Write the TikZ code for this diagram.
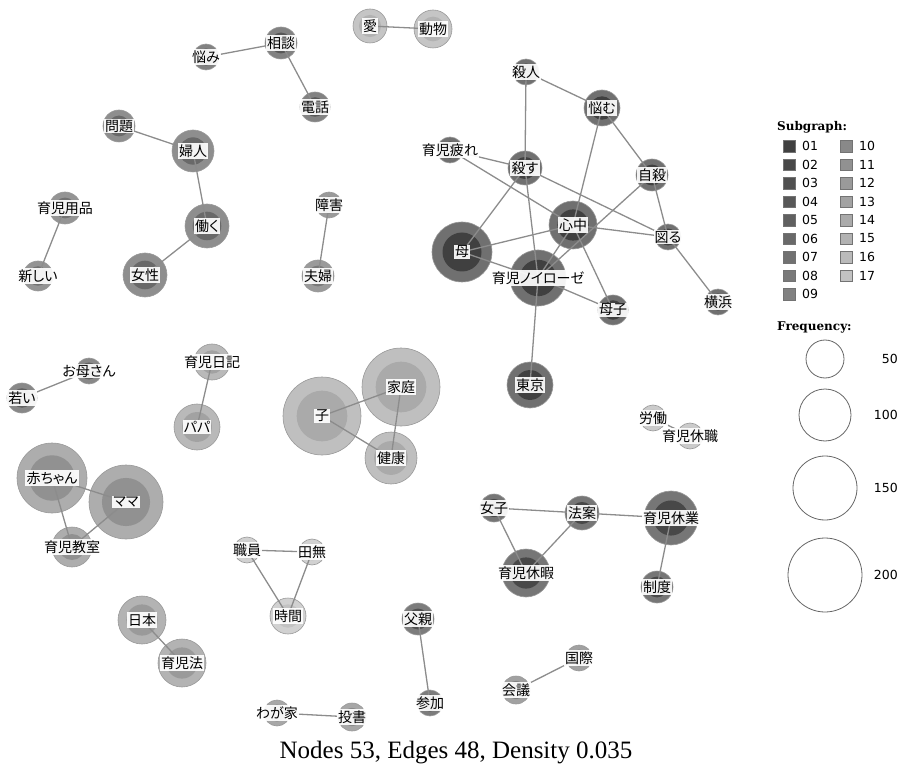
\documentclass[tikz,border=0pt]{standalone}
\usepackage{fontspec}
\setmainfont{Liberation Serif}
\newfontfamily\jp[RawFeature=+palt]{Noto Sans CJK JP}
\newfontfamily\lgsans{DejaVu Sans}
\newfontfamily\lgserif{DejaVu Serif}

\definecolor{sg01}{gray}{0.250}
\definecolor{sg02}{gray}{0.282}
\definecolor{sg03}{gray}{0.314}
\definecolor{sg04}{gray}{0.346}
\definecolor{sg05}{gray}{0.378}
\definecolor{sg06}{gray}{0.410}
\definecolor{sg07}{gray}{0.442}
\definecolor{sg08}{gray}{0.474}
\definecolor{sg09}{gray}{0.506}
\definecolor{sg10}{gray}{0.538}
\definecolor{sg11}{gray}{0.570}
\definecolor{sg12}{gray}{0.602}
\definecolor{sg13}{gray}{0.634}
\definecolor{sg14}{gray}{0.666}
\definecolor{sg15}{gray}{0.698}
\definecolor{sg16}{gray}{0.730}
\definecolor{sg17}{gray}{0.762}

\tikzset{
  kw/.style 2 args={circle, draw=black!40, line width=0.6pt, inner sep=0pt,
    minimum size={2*#2 pt}, fill=#1!75!white,
    path picture={\fill[#1] (path picture bounding box.center) circle[radius={0.65*#2 pt}];}},
  kwlabel/.style={font=\jp\fontsize{14}{15}\selectfont, fill=white,
    fill opacity=0.92, text opacity=1, inner sep=1.2pt},
  kwedge/.style={draw=black!45, line width=1.3pt},
  freq/.style={circle, draw=black!60, line width=0.8pt, inner sep=0pt},
}

\begin{document}
\begin{tikzpicture}[x=1pt,y=-1pt]
        \useasboundingbox (0,0) rectangle (903,778);
        % subgraph 01
        \node[kw={sg01}{13}] (satsujin) at (526,72) {};
        \node[kw={sg01}{18}] (nayamu) at (602,108) {};
        \node[kw={sg01}{13}] (tsukare) at (450,150) {};
        \node[kw={sg01}{17}] (korosu) at (525,168) {};
        \node[kw={sg01}{16}] (jisatsu) at (652,175) {};
        \node[kw={sg01}{24}] (shinju) at (573,225) {};
        \node[kw={sg01}{13}] (hakaru) at (668,237) {};
        \node[kw={sg01}{30}] (haha) at (462,252) {};
        \node[kw={sg01}{28}] (noirose) at (538,278) {};
        \node[kw={sg01}{15}] (boshi) at (613,310) {};
        \node[kw={sg01}{13}] (yokohama) at (718,302) {};
        \node[kw={sg01}{23}] (tokyo) at (530,385) {};
        % subgraph 02
        \node[kw={sg02}{14}] (joshi) at (494,508) {};
        \node[kw={sg02}{17}] (hoan) at (582,513) {};
        \node[kw={sg02}{27}] (kyugyo) at (671,518) {};
        \node[kw={sg02}{24}] (kyuka) at (526,573) {};
        \node[kw={sg02}{16}] (seido) at (657,587) {};
        % subgraphs 03 - 10
        \node[kw={sg03}{16}] (chichi) at (418,619) {};
        \node[kw={sg03}{13}] (sanka) at (430,703) {};
        \node[kw={sg04}{13}] (nayami) at (206,57) {};
        \node[kw={sg04}{16}] (sodan) at (281,43) {};
        \node[kw={sg04}{15}] (denwa) at (315,107) {};
        \node[kw={sg05}{15}] (wakai) at (22,398) {};
        \node[kw={sg05}{13}] (okasan) at (89,371) {};
        \node[kw={sg06}{16}] (mondai) at (119,126) {};
        \node[kw={sg06}{21}] (fujin) at (193,151) {};
        \node[kw={sg06}{22}] (hataraku) at (207,226) {};
        \node[kw={sg06}{22}] (josei) at (145,275) {};
        \node[kw={sg07}{16}] (yohin) at (65,208) {};
        \node[kw={sg07}{15}] (atarashii) at (38,276) {};
        \node[kw={sg08}{13}] (shogai) at (329,205) {};
        \node[kw={sg08}{16}] (fufu) at (318,276) {};
        \node[kw={sg09}{13}] (kokusai) at (579,658) {};
        \node[kw={sg09}{14}] (kaigi) at (516,690) {};
        \node[kw={sg10}{13}] (wagaya) at (277,713) {};
        \node[kw={sg10}{14}] (tosho) at (352,717) {};
        % subgraphs 11 - 17
        \node[kw={sg11}{35}] (akachan) at (52,478) {};
        \node[kw={sg11}{37}] (mama) at (126,502) {};
        \node[kw={sg11}{20}] (kyoshitsu) at (72,547) {};
        \node[kw={sg12}{24}] (nihon) at (142,620) {};
        \node[kw={sg12}{24}] (ikujiho) at (182,663) {};
        \node[kw={sg13}{18}] (nikki) at (212,362) {};
        \node[kw={sg13}{23}] (papa) at (197,427) {};
        \node[kw={sg14}{39}] (ko) at (322,416) {};
        \node[kw={sg14}{39}] (katei) at (401,387) {};
        \node[kw={sg14}{26}] (kenko) at (391,458) {};
        \node[kw={sg15}{17}] (ai) at (370,26) {};
        \node[kw={sg15}{19}] (dobutsu) at (433,29) {};
        \node[kw={sg16}{13}] (rodo) at (653,418) {};
        \node[kw={sg16}{13}] (kyushoku) at (690,436) {};
        \node[kw={sg17}{13}] (shokuin) at (247,550) {};
        \node[kw={sg17}{13}] (tanashi) at (312,552) {};
        \node[kw={sg17}{18}] (jikan) at (288,616) {};

        \path[kwedge]
            (satsujin.center) edge (korosu.center)
                              edge (nayamu.center)
            (nayamu.center) edge (jisatsu.center)
                            edge (shinju.center)
            (tsukare.center) edge (korosu.center)
                             edge (shinju.center)
            (korosu.center) edge (haha.center)
                            edge (noirose.center)
                            edge (hakaru.center)
            (jisatsu.center) edge (hakaru.center)
                             edge (noirose.center)
            (shinju.center) edge (hakaru.center)
                            edge (haha.center)
                            edge (noirose.center)
                            edge (boshi.center)
            (haha.center) edge (noirose.center)
            (noirose.center) edge (boshi.center)
                             edge (tokyo.center)
            (hakaru.center) edge (yokohama.center)
            (joshi.center) edge (hoan.center)
                           edge (kyuka.center)
            (hoan.center) edge (kyuka.center)
                          edge (kyugyo.center)
            (kyugyo.center) edge (seido.center)
            (chichi.center) edge (sanka.center)
            (nayami.center) edge (sodan.center)
            (sodan.center) edge (denwa.center)
            (okasan.center) edge (wakai.center)
            (mondai.center) edge (fujin.center)
            (fujin.center) edge (hataraku.center)
            (hataraku.center) edge (josei.center)
            (yohin.center) edge (atarashii.center)
            (shogai.center) edge (fufu.center)
            (kokusai.center) edge (kaigi.center)
            (wagaya.center) edge (tosho.center)
            (akachan.center) edge (mama.center)
                             edge (kyoshitsu.center)
            (mama.center) edge (kyoshitsu.center)
            (nihon.center) edge (ikujiho.center)
            (nikki.center) edge (papa.center)
            (ko.center) edge (katei.center)
                        edge (kenko.center)
            (katei.center) edge (kenko.center)
            (ai.center) edge (dobutsu.center)
            (rodo.center) edge (kyushoku.center)
            (shokuin.center) edge (tanashi.center)
                             edge (jikan.center)
            (tanashi.center) edge (jikan.center);

        % labels
        \node[kwlabel] (satsujin-t) at (satsujin) {殺人};
        \node[kwlabel] (nayamu-t) at (nayamu) {悩む};
        \node[kwlabel] (tsukare-t) at (tsukare) {育児疲れ};
        \node[kwlabel] (korosu-t) at (korosu) {殺す};
        \node[kwlabel] (jisatsu-t) at (jisatsu) {自殺};
        \node[kwlabel] (shinju-t) at (shinju) {心中};
        \node[kwlabel] (hakaru-t) at (hakaru) {図る};
        \node[kwlabel] (haha-t) at (haha) {母};
        \node[kwlabel] (noirose-t) at (noirose) {育児ノイローゼ};
        \node[kwlabel] (boshi-t) at (boshi) {母子};
        \node[kwlabel] (yokohama-t) at (yokohama) {横浜};
        \node[kwlabel] (tokyo-t) at (tokyo) {東京};
        \node[kwlabel] (joshi-t) at (joshi) {女子};
        \node[kwlabel] (hoan-t) at (hoan) {法案};
        \node[kwlabel] (kyugyo-t) at (kyugyo) {育児休業};
        \node[kwlabel] (kyuka-t) at (kyuka) {育児休暇};
        \node[kwlabel] (seido-t) at (seido) {制度};
        \node[kwlabel] (chichi-t) at (chichi) {父親};
        \node[kwlabel] (sanka-t) at (sanka) {参加};
        \node[kwlabel] (nayami-t) at (nayami) {悩み};
        \node[kwlabel] (sodan-t) at (sodan) {相談};
        \node[kwlabel] (denwa-t) at (denwa) {電話};
        \node[kwlabel] (wakai-t) at (wakai) {若い};
        \node[kwlabel] (okasan-t) at (okasan) {お母さん};
        \node[kwlabel] (mondai-t) at (mondai) {問題};
        \node[kwlabel] (fujin-t) at (fujin) {婦人};
        \node[kwlabel] (hataraku-t) at (hataraku) {働く};
        \node[kwlabel] (josei-t) at (josei) {女性};
        \node[kwlabel] (yohin-t) at (yohin) {育児用品};
        \node[kwlabel] (atarashii-t) at (atarashii) {新しい};
        \node[kwlabel] (shogai-t) at (shogai) {障害};
        \node[kwlabel] (fufu-t) at (fufu) {夫婦};
        \node[kwlabel] (kokusai-t) at (kokusai) {国際};
        \node[kwlabel] (kaigi-t) at (kaigi) {会議};
        \node[kwlabel] (wagaya-t) at (wagaya) {わが家};
        \node[kwlabel] (tosho-t) at (tosho) {投書};
        \node[kwlabel] (akachan-t) at (akachan) {赤ちゃん};
        \node[kwlabel] (mama-t) at (mama) {ママ};
        \node[kwlabel] (kyoshitsu-t) at (kyoshitsu) {育児教室};
        \node[kwlabel] (nihon-t) at (nihon) {日本};
        \node[kwlabel] (ikujiho-t) at (ikujiho) {育児法};
        \node[kwlabel] (nikki-t) at (nikki) {育児日記};
        \node[kwlabel] (papa-t) at (papa) {パパ};
        \node[kwlabel] (ko-t) at (ko) {子};
        \node[kwlabel] (katei-t) at (katei) {家庭};
        \node[kwlabel] (kenko-t) at (kenko) {健康};
        \node[kwlabel] (ai-t) at (ai) {愛};
        \node[kwlabel] (dobutsu-t) at (dobutsu) {動物};
        \node[kwlabel] (rodo-t) at (rodo) {労働};
        \node[kwlabel] (kyushoku-t) at (kyushoku) {育児休職};
        \node[kwlabel] (shokuin-t) at (shokuin) {職員};
        \node[kwlabel] (tanashi-t) at (tanashi) {田無};
        \node[kwlabel] (jikan-t) at (jikan) {時間};

        % legend
        \node[anchor=west, inner sep=0pt, font=\lgserif\bfseries\fontsize{12}{14}\selectfont] (sg-title) at (777,127) {Subgraph:};
        \foreach \n [count=\k] in {01,02,03,04,05,06,07,08,09} {
            \node[draw=black!55, fill=sg\n, minimum size=11.5pt, inner sep=0pt] (sq\n) at (789,{146+(\k-1)*18.5}) {};
            \node[anchor=west, inner sep=0pt, font=\lgsans\fontsize{12.5}{14}\selectfont] (sqt\n) at (802,{146+(\k-1)*18.5}) {\n};
        }
        \foreach \n [count=\k] in {10,11,12,13,14,15,16,17} {
            \node[draw=black!55, fill=sg\n, minimum size=11.5pt, inner sep=0pt] (sq\n) at (846,{146+(\k-1)*18.5}) {};
            \node[anchor=west, inner sep=0pt, font=\lgsans\fontsize{12.5}{14}\selectfont] (sqt\n) at (859,{146+(\k-1)*18.5}) {\n};
        }
        \node[anchor=west, inner sep=0pt, font=\lgserif\bfseries\fontsize{12}{14}\selectfont] (fq-title) at (777,327) {Frequency:};
        \foreach \f/\r/\y in {50/19/359,100/26/415,150/32/488,200/37/575} {
            \node[freq, minimum size={2*\r pt}] (fq\f) at (825,\y) {};
            \node[anchor=east, inner sep=0pt, font=\lgsans\fontsize{12.5}{14}\selectfont] (fqt\f) at (898,\y) {\f};
        }

        \node[font=\fontsize{25}{30}\selectfont] (caption) at (456,753) {Nodes 53, Edges 48, Density 0.035};
\end{tikzpicture}
\end{document}
